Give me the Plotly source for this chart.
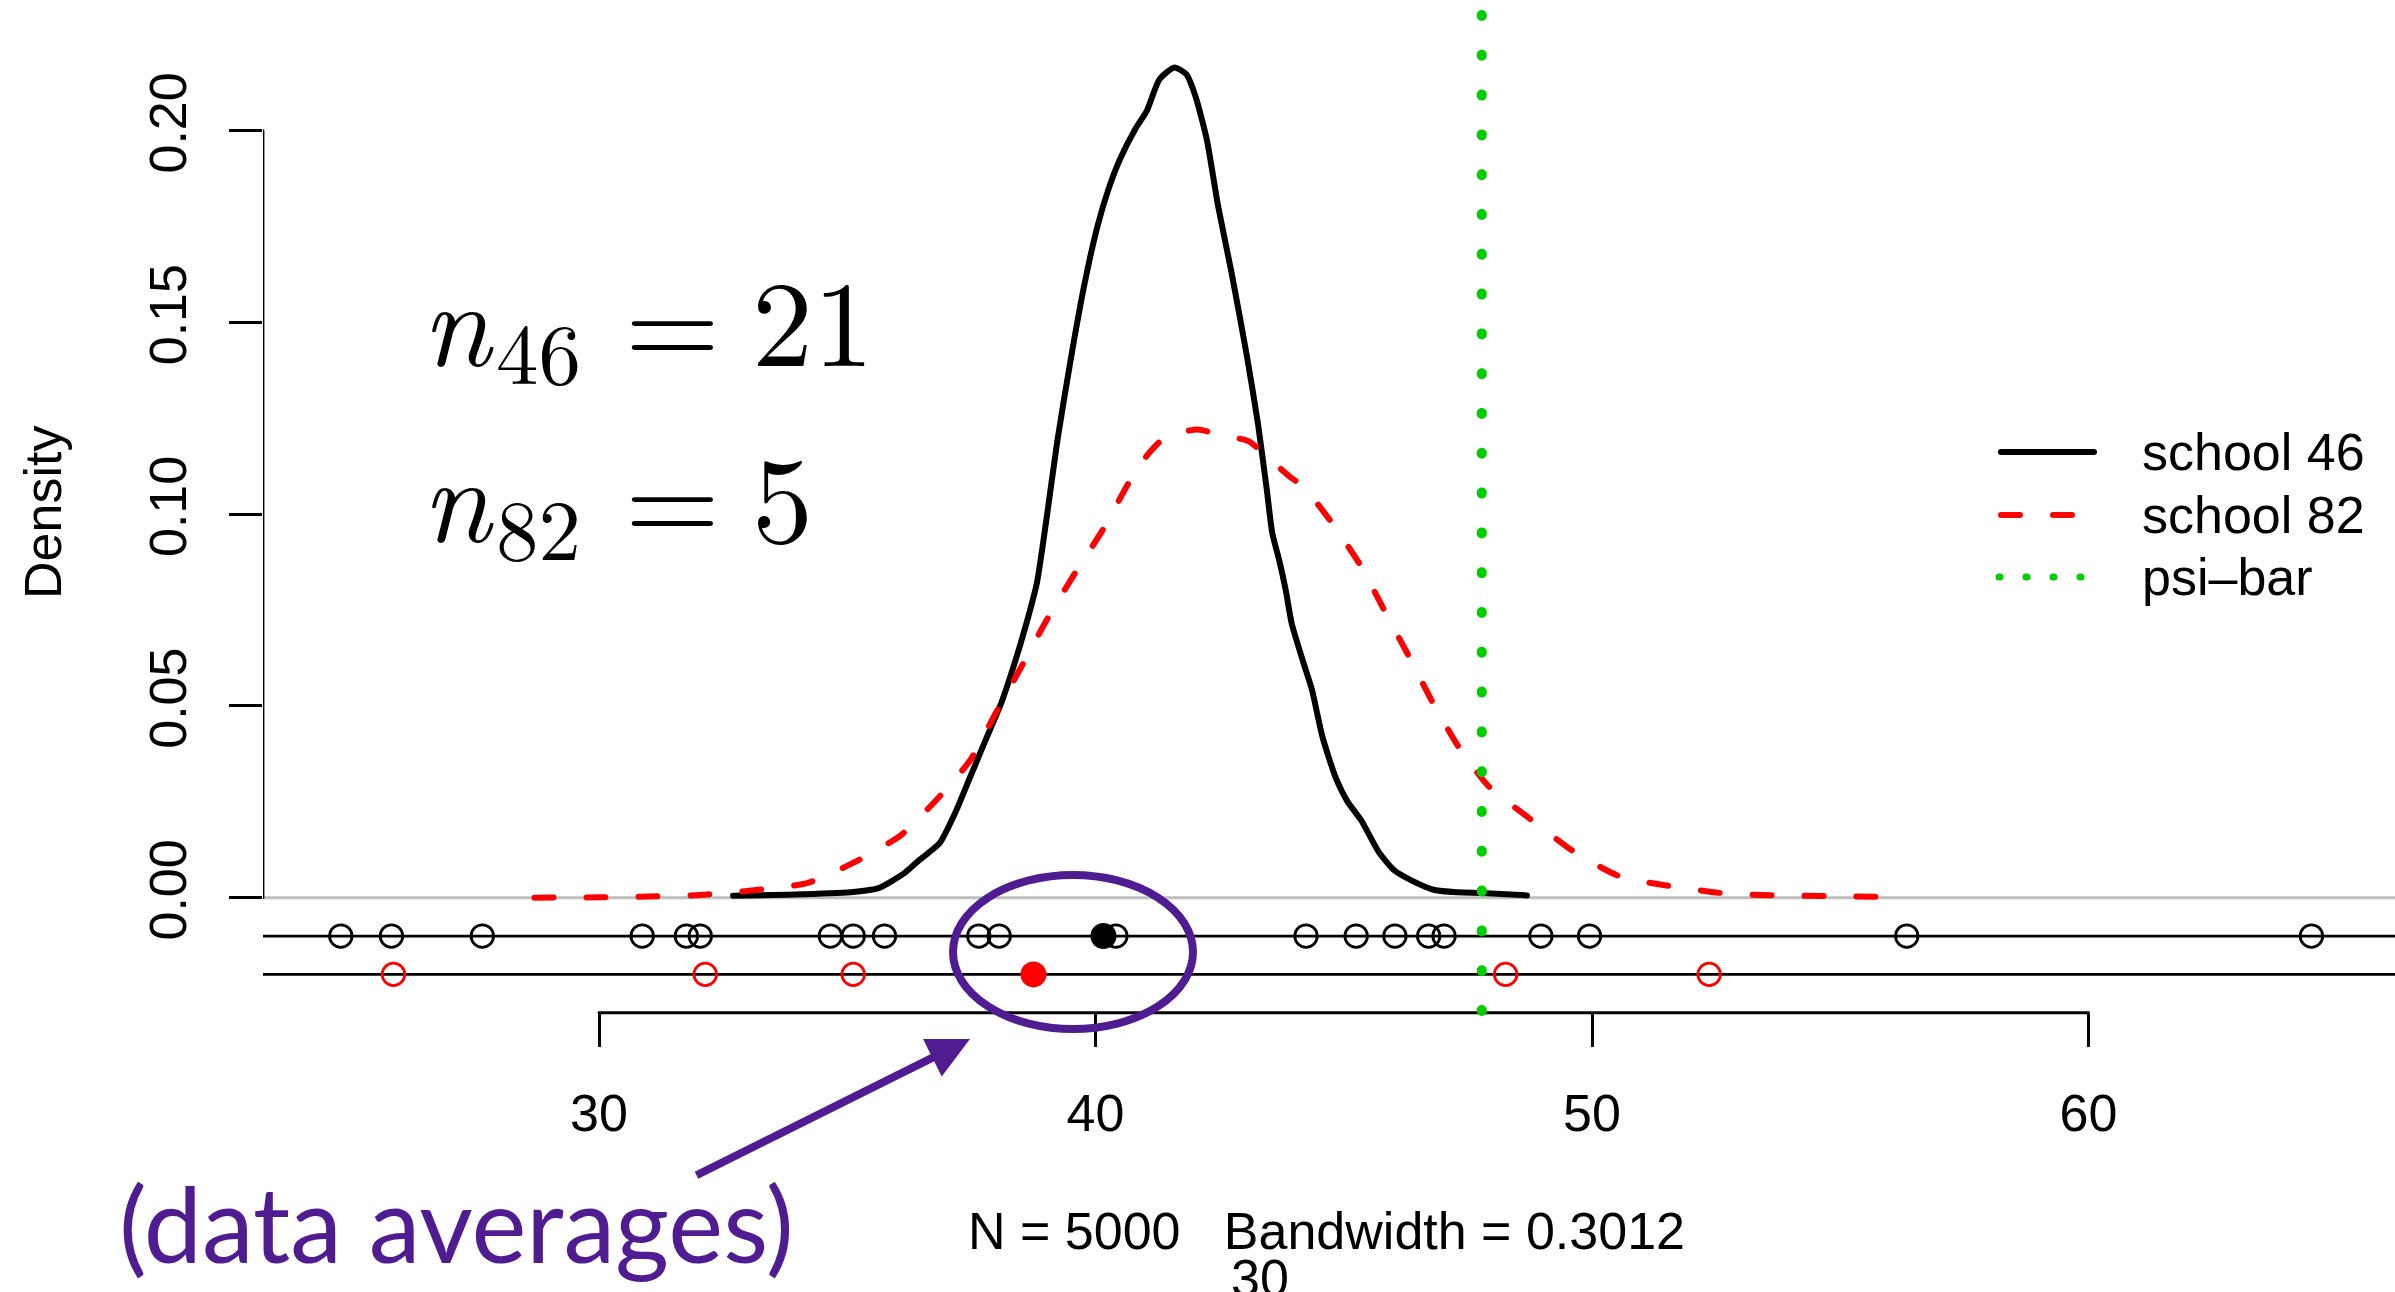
import plotly.graph_objects as go

# ---------------- data ----------------
school46_x = [32.70, 33.50, 34.09, 35.12, 35.63, 36.15, 36.45, 36.86, 37.17, 37.48,
              37.79, 38.10, 38.35, 38.61, 38.82, 39.02, 39.23, 39.50, 39.77, 40.04,
              40.26, 40.49, 40.80, 41.03, 41.29, 41.59, 41.83, 42.01, 42.24, 42.47,
              42.74, 43.05, 43.27, 43.45, 43.56, 43.70, 43.83, 43.95, 44.19, 44.36,
              44.57, 44.83, 45.08, 45.36, 45.70, 46.01, 46.35, 46.83, 47.30, 47.78, 48.69]
school46_dens = [0.0005, 0.0007, 0.0009, 0.0015, 0.0025, 0.0064, 0.0098, 0.0142, 0.0220, 0.0316,
                 0.0412, 0.0507, 0.0603, 0.0716, 0.0821, 0.0994, 0.1190, 0.1403, 0.1595, 0.1751,
                 0.1847, 0.1925, 0.2004, 0.2051, 0.2134, 0.2165, 0.2147, 0.2091, 0.1978, 0.1803,
                 0.1630, 0.1412, 0.1238, 0.1064, 0.0951, 0.0880, 0.0803, 0.0716, 0.0612, 0.0542,
                 0.0420, 0.0316, 0.0250, 0.0200, 0.0120, 0.0072, 0.0046, 0.0020, 0.0014, 0.0012, 0.0006]

school82_x = [28.70, 30.00, 31.00, 32.03, 33.16, 34.19, 35.17, 36.09, 36.86, 37.48,
              37.99, 38.51, 39.02, 39.59, 40.15, 40.67, 41.08, 41.43, 42.06, 42.47,
              43.09, 43.41, 43.90, 44.20, 44.73, 45.33, 45.81, 46.33, 46.80, 47.31,
              47.92, 48.78, 49.68, 50.57, 51.65, 52.69, 53.72, 54.80, 56.08]
school82_dens = [0.0000, 0.0001, 0.0003, 0.0007, 0.0020, 0.0038, 0.0094, 0.0164, 0.0264, 0.0359,
                 0.0481, 0.0603, 0.0725, 0.0847, 0.0960, 0.1082, 0.1160, 0.1203, 0.1221, 0.1208,
                 0.1190, 0.1155, 0.1099, 0.1070, 0.0983, 0.0868, 0.0751, 0.0625, 0.0507, 0.0394,
                 0.0290, 0.0203, 0.0116, 0.0055, 0.0029, 0.0011, 0.0006, 0.0004, 0.0002]

obs46 = [24.80, 25.82, 27.65, 30.87, 31.76, 32.04, 34.66, 35.12, 35.75, 37.65, 38.06,
         40.41, 44.24, 45.25, 46.03, 46.71, 47.02, 48.97, 49.95, 56.34, 64.49]
obs82 = [25.86, 32.14, 35.12, 48.26, 52.36]
mean46 = 40.16
mean82 = 38.75
psi_bar = 47.78

row46_y = -0.01
row82_y = -0.02
xaxis_y = -0.03

y_ticks = [0.00, 0.05, 0.10, 0.15, 0.20]
y_ticktext = ["0.00", "0.05", "0.10", "0.15", "0.20"]
x_ticks = [30, 40, 50, 60]
x_ticktext = ["30", "40", "50", "60"]

legend_names = ["school 46", "school 82", "psi\u2013bar"]
xlab = "N = 5000\u00a0\u00a0\u00a0Bandwidth = 0.3012"
sample_subs = ["46", "82"]
sample_sizes = ["21", "5"]

# ---------------- layout calibration (pixels) ----------------
W, H = 2395, 1292
ML = 263
X30PX, XPPU = 599.0, 49.65
Y0PX, YPPU = 897.7, 3835.0

def xd(px):
    return 30 + (px - X30PX) / XPPU

def yd(py):
    return (Y0PX - py) / YPPU

xmin, xmax = xd(ML), xd(W)
ymin, ymax = yd(H), yd(0)

BLACK = "black"
RED = "#FF0000"
GREEN = "#00CD00"
PURPLE = "#501C92"
FONT = "Liberation Sans, Arial, sans-serif"
SERIF = "Latin Modern Roman, CMU Serif, Liberation Serif, serif"

fig = go.Figure()

fig.add_trace(go.Scatter(x=school46_x, y=school46_dens, mode="lines",
                         line=dict(color=BLACK, width=6, shape="spline", smoothing=0.6),
                         showlegend=False, hoverinfo="skip"))
fig.add_trace(go.Scatter(x=school82_x, y=school82_dens, mode="lines",
                         line=dict(color=RED, width=6, dash="19px,33px", shape="spline", smoothing=0.6),
                         showlegend=False, hoverinfo="skip"))

# data averages (filled) and observations (open)
fig.add_trace(go.Scatter(x=[mean46], y=[row46_y], mode="markers",
                         marker=dict(symbol="circle", size=26, color=BLACK),
                         showlegend=False, hoverinfo="skip"))
fig.add_trace(go.Scatter(x=[mean82], y=[row82_y], mode="markers",
                         marker=dict(symbol="circle", size=26, color=RED),
                         showlegend=False, hoverinfo="skip"))
fig.add_trace(go.Scatter(x=obs46, y=[row46_y] * len(obs46), mode="markers",
                         marker=dict(symbol="circle-open", size=22.5, color=BLACK, line=dict(width=2.8)),
                         showlegend=False, hoverinfo="skip"))
fig.add_trace(go.Scatter(x=obs82, y=[row82_y] * len(obs82), mode="markers",
                         marker=dict(symbol="circle-open", size=22.5, color=RED, line=dict(width=2.8)),
                         showlegend=False, hoverinfo="skip"))

shapes = []
# zero line (grey)
shapes.append(dict(type="line", xref="x", yref="y", x0=xmin, x1=xmax, y0=0, y1=0,
                   line=dict(color="#BEBEBE", width=3), layer="below"))
# rows for the observations
for ry in (row46_y, row82_y):
    shapes.append(dict(type="line", xref="x", yref="y", x0=xmin, x1=xmax, y0=ry, y1=ry,
                       line=dict(color=BLACK, width=2.8), layer="below"))
# y axis line (0 .. 0.20)
shapes.append(dict(type="line", xref="x", yref="y", x0=xmin, x1=xmin, y0=y_ticks[0], y1=y_ticks[-1],
                   line=dict(color=BLACK, width=2.8)))
# x axis line (30 .. 60)
shapes.append(dict(type="line", xref="x", yref="y", x0=x_ticks[0], x1=x_ticks[-1], y0=xaxis_y, y1=xaxis_y,
                   line=dict(color=BLACK, width=2.8)))
# psi-bar dotted vertical line
shapes.append(dict(type="line", xref="x", yref="y", x0=psi_bar, x1=psi_bar, y0=yd(15), y1=xaxis_y,
                   line=dict(color=GREEN, width=10, dash="1px,38.8px")))
# purple ellipse around the averages
ecx, ecy = xd(1073), yd(952)
erx, ery = 120 / XPPU, 77 / YPPU
shapes.append(dict(type="circle", xref="x", yref="y", x0=ecx - erx, x1=ecx + erx,
                   y0=ecy - ery, y1=ecy + ery, line=dict(color=PURPLE, width=8)))
# legend samples
leg_y = [452, 515, 577]
shapes.append(dict(type="line", xref="x", yref="y", x0=xd(2001), x1=xd(2094), y0=yd(leg_y[0]), y1=yd(leg_y[0]),
                   line=dict(color=BLACK, width=6)))
shapes.append(dict(type="line", xref="x", yref="y", x0=xd(2001), x1=xd(2073), y0=yd(leg_y[1]), y1=yd(leg_y[1]),
                   line=dict(color=RED, width=6, dash="19px,33px")))
shapes.append(dict(type="line", xref="x", yref="y", x0=xd(1999), x1=xd(2082), y0=yd(leg_y[2]), y1=yd(leg_y[2]),
                   line=dict(color=GREEN, width=7, dash="1px,26px")))

annotations = []
for name, ly in zip(legend_names, leg_y):
    annotations.append(dict(x=xd(2140), y=yd(ly), xref="x", yref="y", text=name, showarrow=False,
                            xanchor="left", yanchor="middle", font=dict(family=FONT, size=52, color=BLACK)))
# y axis title
annotations.append(dict(x=(43 - ML) / (W - ML), y=yd(513), xref="paper", yref="y", text="Density",
                        showarrow=False, textangle=-90, xanchor="center", yanchor="middle",
                        font=dict(family=FONT, size=52, color=BLACK)))
# x label (density default)
annotations.append(dict(x=xd(1326), y=yd(1231), xref="x", yref="y", text=xlab, showarrow=False,
                        xanchor="center", yanchor="middle", font=dict(family=FONT, size=52, color=BLACK)))
annotations.append(dict(x=xd(1260), y=yd(1247), xref="x", yref="y", text="30", showarrow=False,
                        xanchor="center", yanchor="top", font=dict(family=FONT, size=52, color=BLACK)))

# sample sizes  n_46 = 21 , n_82 = 5  (baseline-based placement)
MAIN, SUB = 122, 85
K = 0.4235  # (ascent - descent)/2 of the serif font, in em
for base, sub, val in zip([367, 543], sample_subs, sample_sizes):
    cmain = base - K * MAIN
    csub = base + 17 - K * SUB
    annotations.append(dict(x=xd(420), y=yd(cmain), xref="x", yref="y", text="<i>n</i>", showarrow=False,
                            xanchor="left", yanchor="middle", font=dict(family=SERIF, size=MAIN, color=BLACK)))
    annotations.append(dict(x=xd(494), y=yd(csub), xref="x", yref="y", text=sub, showarrow=False,
                            xanchor="left", yanchor="middle", font=dict(family=SERIF, size=SUB, color=BLACK)))
    annotations.append(dict(x=xd(672), y=yd(cmain), xref="x", yref="y", text="=", showarrow=False,
                            xanchor="center", yanchor="middle", font=dict(family=SERIF, size=MAIN, color=BLACK)))
    annotations.append(dict(x=xd(750), y=yd(cmain), xref="x", yref="y", text=val, showarrow=False,
                            xanchor="left", yanchor="middle", font=dict(family=SERIF, size=MAIN, color=BLACK)))

# purple callout
annotations.append(dict(x=xd(970), y=yd(1039), xref="x", yref="y", text="", showarrow=True,
                        ax=695 - 970, ay=1176 - 1039, axref="pixel", ayref="pixel",
                        arrowhead=2, arrowsize=1.05, arrowwidth=8, arrowcolor=PURPLE, standoff=0))
annotations.append(dict(x=xd(456), y=yd(1222), xref="x", yref="y", text="(data averages)", showarrow=False,
                        xanchor="center", yanchor="middle", font=dict(family="Lato, sans-serif", size=104, color=PURPLE)))

fig.update_layout(
    width=W, height=H,
    margin=dict(l=ML, r=0, t=0, b=0, pad=0),
    paper_bgcolor="white", plot_bgcolor="white",
    showlegend=False,
    shapes=shapes, annotations=annotations,
    xaxis=dict(range=[xmin, xmax], showgrid=False, zeroline=False, showline=False,
               anchor="free", position=(xaxis_y - ymin) / (ymax - ymin),
               tickvals=x_ticks, ticktext=x_ticktext, ticks="outside", ticklen=33, tickwidth=2.8,
               tickcolor=BLACK, ticklabelstandoff=22,
               tickfont=dict(family=FONT, size=52, color=BLACK)),
    yaxis=dict(range=[ymin, ymax], showgrid=False, zeroline=False, showline=False,
               tickvals=y_ticks, ticktext=y_ticktext, ticks="outside", ticklen=33, tickwidth=2.8,
               tickcolor=BLACK, tickangle=-90, ticklabelstandoff=22,
               tickfont=dict(family=FONT, size=52, color=BLACK)),
)

post = ("document.querySelectorAll('path.js-line, g.shapelayer path').forEach(function(p){"
        "p.style.strokeLinecap='round';p.style.strokeLinejoin='round';});")
fig.write_html("out.html", post_script=post)
